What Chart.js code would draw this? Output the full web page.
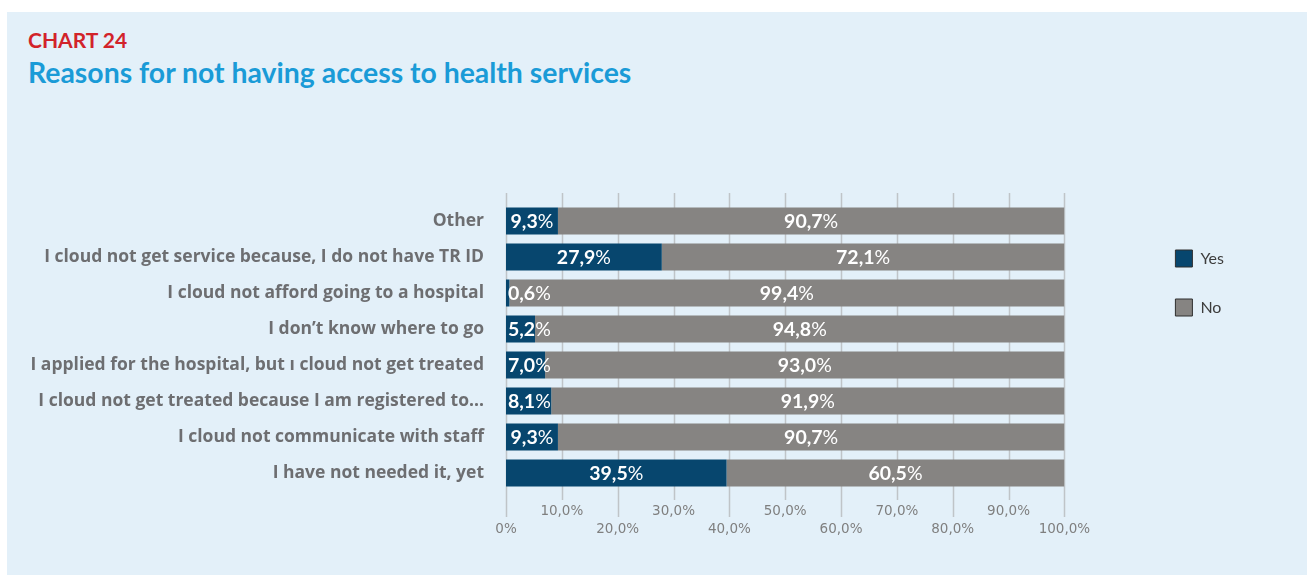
<!DOCTYPE html>
<html><head><meta charset="utf-8">
<script src="https://cdn.jsdelivr.net/npm/chart.js@4.4.1/dist/chart.umd.min.js"></script>
<style>
html,body{margin:0;padding:0;background:#fff;}
body{width:1315px;height:575px;position:relative;overflow:hidden;}
#panel{position:absolute;left:7px;top:12px;width:1300px;height:563px;background:#e3f0f9;}
.t1{position:absolute;left:21px;top:17px;font:700 21px Lato;color:#d2232a;line-height:1;white-space:nowrap;}
.t2{position:absolute;left:21px;top:46px;font:700 28.4px Lato;color:#1a9bd7;line-height:1;white-space:nowrap;}
#wrap{position:absolute;left:0;top:0;width:1300px;height:563px;}
</style></head>
<body>
<div id="panel">
<div class="t1">CHART 24</div>
<div class="t2">Reasons for not having access to health services</div>
<div id="wrap"><canvas id="c"></canvas></div>
</div>
<script>
const categories = [
  'Other',
  'I cloud not get service because, I do not have TR ID',
  'I cloud not afford going to a hospital',
  'I don\u2019t know where to go',
  'I applied for the hospital, but \u0131 cloud not get treated',
  'I cloud not get treated because I am registered to...',
  'I cloud not communicate with staff',
  'I have not needed it, yet'
];
const seriesNames = ['Yes', 'No'];
const yesValues = [9.3, 27.9, 0.6, 5.2, 7.0, 8.1, 9.3, 39.5];
const noValues = [90.7, 72.1, 99.4, 94.8, 93.0, 91.9, 90.7, 60.5];
const xTicks = [0, 10, 20, 30, 40, 50, 60, 70, 80, 90, 100];

const gridPlugin = {
  id: 'gridLines',
  beforeDatasetsDraw(chart) {
    const ctx = chart.ctx, xs = chart.scales.x, a = chart.chartArea;
    ctx.save();
    ctx.strokeStyle = '#bfc4c8';
    ctx.lineWidth = 1.5;
    xs.ticks.forEach(t => {
      const px = Math.round(xs.getPixelForValue(t.value)) + 0.5;
      const odd = Math.round(t.value / 10) % 2 === 1;
      ctx.beginPath();
      ctx.moveTo(px, a.top - 10);
      ctx.lineTo(px, a.bottom + (odd ? 9 : 26));
      ctx.stroke();
    });
    ctx.restore();
  }
};

const valueLabels = {
  id: 'valueLabels',
  afterDatasetsDraw(chart) {
    const ctx = chart.ctx;
    ctx.save();
    ctx.fillStyle = '#ffffff';
    ctx.textBaseline = 'middle';
    chart.data.datasets.forEach((ds, di) => {
      const meta = chart.getDatasetMeta(di);
      meta.data.forEach((bar, j) => {
        const p = bar.getProps(['x', 'base', 'y'], true);
        const left = Math.min(p.x, p.base), right = Math.max(p.x, p.base);
        const num = ds.data[j].toFixed(1).replace('.', ',');
        ctx.font = '700 19.5px Lato';
        const wn = ctx.measureText(num).width;
        ctx.font = '400 19.5px Lato';
        const wp = ctx.measureText('%').width;
        const w = wn + wp;
        let sx = (left + right) / 2 - w / 2;
        if (sx < left + 2) sx = left + 2;
        const y = p.y + 1;
        ctx.textAlign = 'left';
        ctx.font = '700 19.5px Lato';
        ctx.fillText(num, sx, y);
        ctx.font = '400 19.5px Lato';
        ctx.fillText('%', sx + wn, y);
      });
    });
    ctx.restore();
  }
};

const spacer = {
  id: 'spacer',
  beforeInit(chart) {
    const box = {
      position: 'right', weight: 500, fullSize: false, options: {},
      width: 0, height: 0, left: 0, top: 0, right: 0, bottom: 0,
      isHorizontal() { return false; },
      update(maxW, maxH) { this.width = 79; this.height = maxH; },
      draw() {}
    };
    Chart.layouts.addBox(chart, box);
  }
};

function build() {
  Chart.defaults.font.family = 'Lato';
  new Chart(document.getElementById('c'), {
    type: 'bar',
    data: {
      labels: categories,
      datasets: [
        { label: seriesNames[0], data: yesValues, backgroundColor: '#07466e', borderWidth: 0 },
        { label: seriesNames[1], data: noValues, backgroundColor: '#868482', borderWidth: 0 }
      ]
    },
    options: {
      indexAxis: 'y',
      responsive: true,
      maintainAspectRatio: false,
      animation: false,
      datasets: { bar: { categoryPercentage: 1, barPercentage: 0.75 } },
      layout: { padding: { left: 0, top: 191, right: 73, bottom: 24 } },
      scales: {
        x: {
          stacked: true, min: 0, max: 100,
          afterBuildTicks(s) { s.ticks = xTicks.map(v => ({ value: v })); },
          afterFit(s) { s.height = 60; },
          grid: { display: false, drawTicks: false }, border: { display: false },
          ticks: {
            autoSkip: false, maxRotation: 0, padding: 12,
            color: '#7f7f7f',
            font: { family: 'DejaVu Sans', size: 13.5, lineHeight: 1.3 },
            callback(v) {
              const s = v === 0 ? '0%' : v.toFixed(1).replace('.', ',') + '%';
              return (Math.round(v / 10) % 2 === 1) ? [s] : ['', s];
            }
          }
        },
        y: {
          stacked: true,
          afterFit(s) { s.width = 499; },
          grid: { display: false, drawTicks: false }, border: { display: false },
          ticks: {
            autoSkip: false, padding: 22, color: '#6d6e71',
            font: { family: 'Open Sans', size: 17.5, weight: '700' }
          }
        }
      },
      plugins: {
        tooltip: { enabled: false },
        legend: {
          position: 'right', align: 'start',
          title: { display: true, text: ' ', font: { size: 1, lineHeight: 1 }, padding: { top: 14, bottom: 0 } },
          labels: {
            boxWidth: 17, boxHeight: 17, padding: 32, color: '#3d3d3d',
            font: { family: 'Lato', size: 16 },
            generateLabels(chart) {
              const items = Chart.defaults.plugins.legend.labels.generateLabels(chart);
              items.forEach(it => { it.strokeStyle = '#2e2e2e'; it.lineWidth = 1; });
              return items;
            }
          }
        }
      }
    },
    plugins: [gridPlugin, valueLabels, spacer]
  });
}
Promise.all([
  document.fonts.load('700 17px Lato'),
  document.fonts.load('400 17px Lato'),
  document.fonts.load('700 16px "Open Sans"'),
  document.fonts.load('13px "DejaVu Sans"')
]).then(build, build);
</script>
</body></html>
